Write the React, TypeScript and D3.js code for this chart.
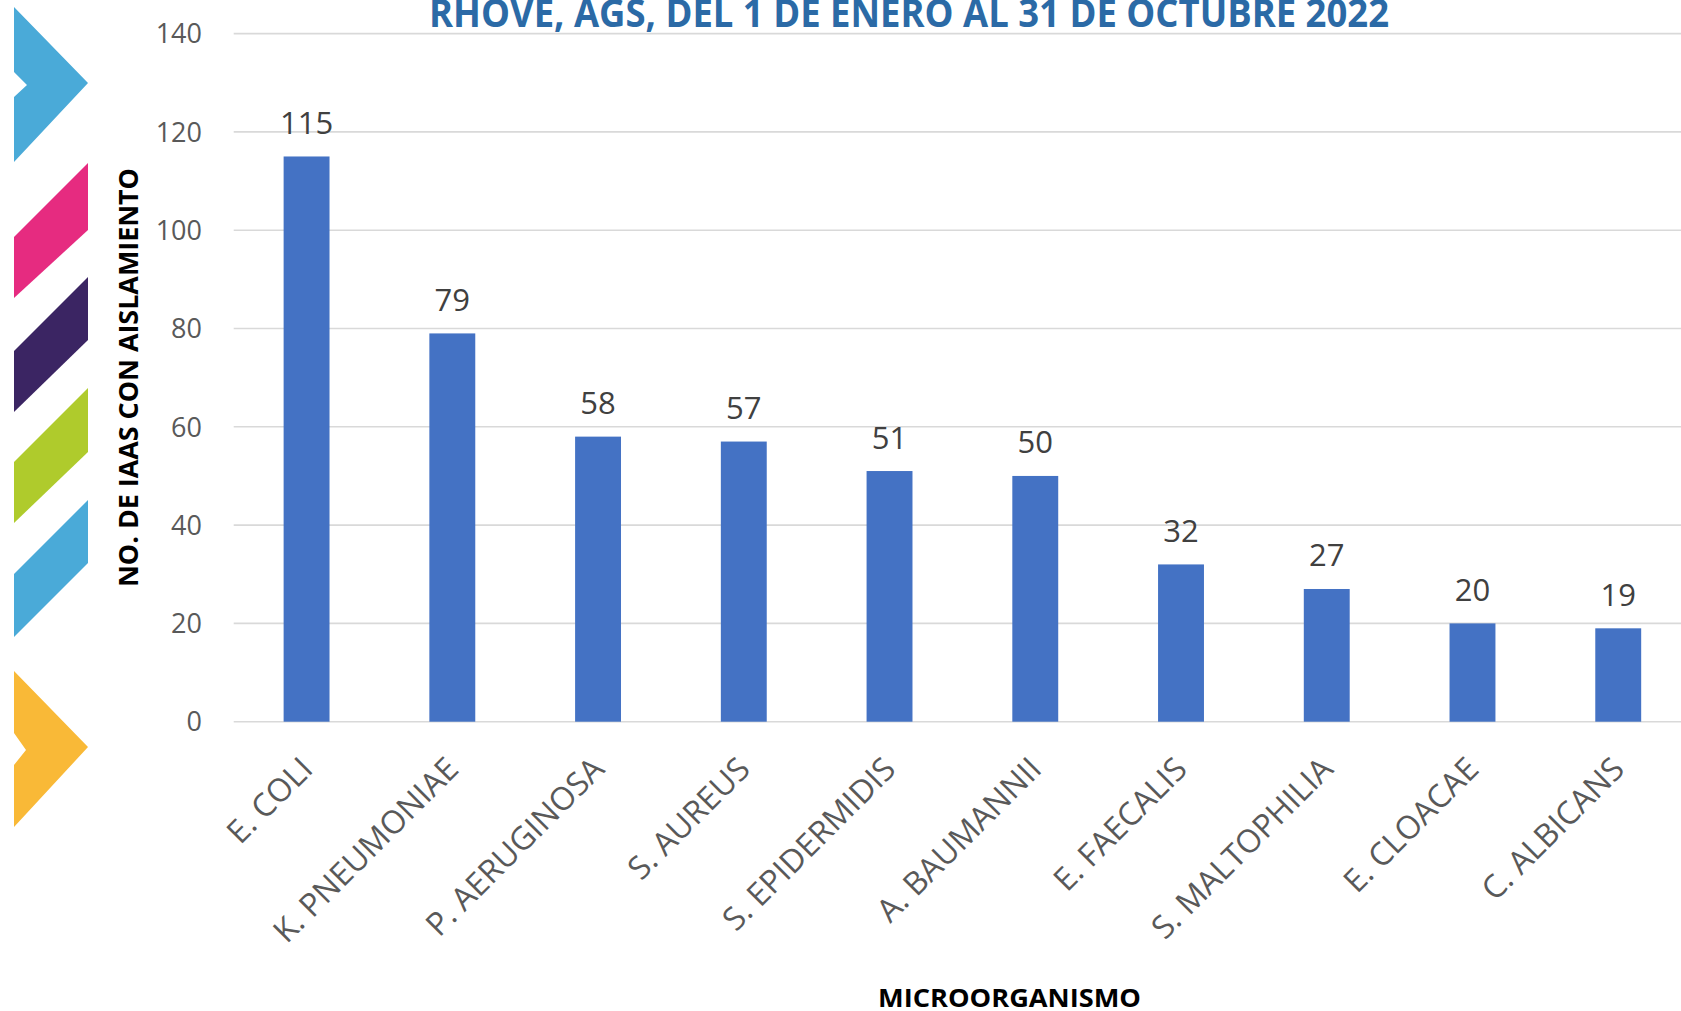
import React from "react";
import * as d3 from "d3";

const categories = [
  "E. COLI",
  "K. PNEUMONIAE",
  "P. AERUGINOSA",
  "S. AUREUS",
  "S. EPIDERMIDIS",
  "A. BAUMANNII",
  "E. FAECALIS",
  "S. MALTOPHILIA",
  "E. CLOACAE",
  "C. ALBICANS",
];
const values = [115, 79, 58, 57, 51, 50, 32, 27, 20, 19];
const yTicks = [0, 20, 40, 60, 80, 100, 120, 140];

const titleText = "RHOVE, AGS, DEL 1 DE ENERO AL 31 DE OCTUBRE 2022";
const yTitle = "NO. DE IAAS CON AISLAMIENTO";
const xTitle = "MICROORGANISMO";

// decorative left-side shapes
const decor = [
  { fill: "#4AAAD8", pts: "14,7 88,83 14,162 14,97 27,85 14,72" },
  { fill: "#E62B80", pts: "14,237 88,163 88,230 14,298" },
  { fill: "#3B2563", pts: "14,351 88,277 88,340 14,412" },
  { fill: "#AFCB2C", pts: "14,462 88,388 88,452 14,523" },
  { fill: "#4AAAD8", pts: "14,574 88,500 88,563 14,637" },
  { fill: "#F9B937", pts: "14,671 88,747 14,827 14,765 26,750 14,733" },
];

const W = 1681;
const H = 1011;

export default function App() {
  const x = d3
    .scaleBand<string>()
    .domain(categories)
    .range([233.7, 1691.1])
    .paddingInner(0.685)
    .paddingOuter(0.3425);
  const y = d3.scaleLinear().domain([0, 140]).range([721.7, 33.6]);
  const font = "'Open Sans', 'Noto Sans', sans-serif";

  return (
    <svg
      width={W}
      height={H}
      viewBox={`0 0 ${W} ${H}`}
      style={{ position: "fixed", left: 0, top: 0, background: "#fff" }}
    >
      <rect x={0} y={0} width={W} height={H} fill="#fff" />
      {decor.map((d, i) => (
        <polygon key={i} points={d.pts} fill={d.fill} />
      ))}

      {/* gridlines */}
      {yTicks.map((t) => (
        <line
          key={t}
          x1={233.7}
          x2={W}
          y1={y(t)}
          y2={y(t)}
          stroke="#D9D9D9"
          strokeWidth={1.6}
        />
      ))}

      {/* y tick labels */}
      {yTicks.map((t) => (
        <text
          key={"l" + t}
          x={202}
          y={y(t)}
          dy="0.36em"
          textAnchor="end"
          fontFamily={font}
          fontSize={27}
          fill="#595959"
        >
          {t}
        </text>
      ))}

      {/* bars */}
      {categories.map((c, i) => (
        <rect
          key={c}
          x={x(c)}
          y={y(values[i])}
          width={x.bandwidth()}
          height={y(0) - y(values[i])}
          fill="#4472C4"
        />
      ))}

      {/* value labels */}
      {categories.map((c, i) => (
        <text
          key={"v" + c}
          x={(x(c) as number) + x.bandwidth() / 2}
          y={y(values[i]) - 22.5}
          textAnchor="middle"
          fontFamily={font}
          fontSize={31}
          fill="#404040"
        >
          {values[i]}
        </text>
      ))}

      {/* x labels */}
      {categories.map((c) => {
        const cx = (x(c) as number) + x.bandwidth() / 2 + 8;
        const cy = 771;
        return (
          <text
            key={"x" + c}
            transform={`translate(${cx},${cy}) rotate(-45)`}
            textAnchor="end"
            fontFamily={font}
            fontSize={32}
            fill="#595959"
          >
            {c}
          </text>
        );
      })}

      {/* title */}
      <text
        x={429}
        y={27}
        fontFamily={font}
        fontWeight="bold"
        fontSize={40}
        fill="#2B6AA6"
        textLength={960}
        lengthAdjust="spacingAndGlyphs"
      >
        {titleText}
      </text>

      {/* y title */}
      <text
        transform={`translate(138,587) rotate(-90)`}
        fontFamily={font}
        fontWeight="bold"
        fontSize={26.5}
        fill="#000"
        textLength={419}
        lengthAdjust="spacingAndGlyphs"
      >
        {yTitle}
      </text>

      {/* x title */}
      <text
        x={878}
        y={1006.5}
        fontFamily={font}
        fontWeight="bold"
        fontSize={25}
        fill="#000"
        textLength={263}
        lengthAdjust="spacingAndGlyphs"
      >
        {xTitle}
      </text>
    </svg>
  );
}
